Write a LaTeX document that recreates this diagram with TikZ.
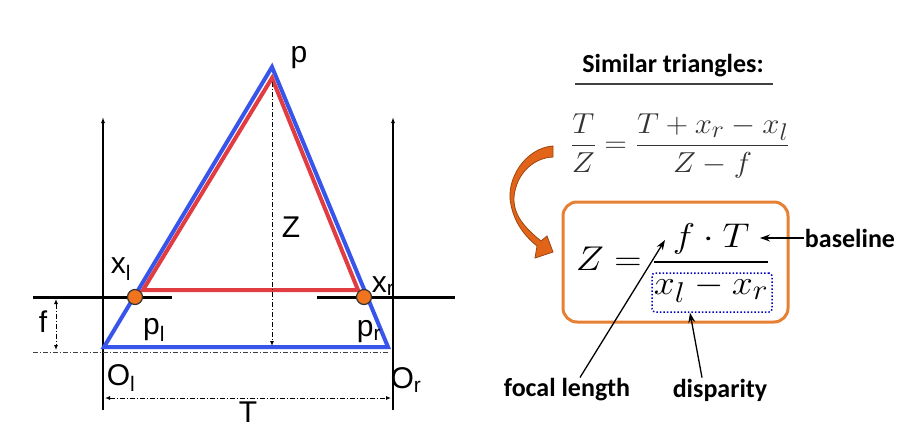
\documentclass[tikz,border=0pt]{standalone}
\usepackage{amsmath}
\usepackage{fontspec}
\setsansfont{Carlito}
\newfontfamily\labelfont{Liberation Sans}
\usetikzlibrary{arrows.meta}

\definecolor{camblue}{RGB}{55,85,235}
\definecolor{camred}{RGB}{225,60,65}
\definecolor{dotorange}{RGB}{240,115,30}
\definecolor{boxorange}{RGB}{230,128,50}
\definecolor{bendorange}{RGB}{225,100,25}

\begin{document}
\begin{tikzpicture}[x=1pt,y=-1pt,
    ray/.style={line width=4pt,line join=miter},
    axis/.style={line width=1.1pt,-{Latex[length=6pt,width=4pt]}},
    plane/.style={line width=3pt},
    dashdot/.style={line width=0.9pt,dash pattern=on 5pt off 2pt on 1pt off 2pt},
    dimtip/.style={{Latex[length=5pt,width=4pt]}-{Latex[length=5pt,width=4pt]}},
    dot/.style={circle,fill=dotorange,draw=black!80,line width=1.2pt,minimum size=15pt,inner sep=0pt},
    lab/.style={font=\labelfont\fontsize{30}{32}\selectfont,inner sep=0pt},
    note/.style={font=\sffamily\bfseries\fontsize{26}{28}\selectfont,inner sep=1pt},
    pointer/.style={line width=1.3pt,-{Stealth[length=10pt,width=7pt]}}]
  \useasboundingbox (0,0) rectangle (901,428);

  % left: two cameras looking at p
  \coordinate (P) at (272,67);
  \coordinate (Ol) at (104,347);
  \coordinate (Or) at (388,347);
  \coordinate (Pin) at (272,78);
  \coordinate (xl) at (143,290);
  \coordinate (xr) at (358,290);

  \draw[axis] (103,410) -- (103,117);
  \draw[axis] (393,410) -- (393,117);
  \draw[plane] (33,297) -- (172,297);
  \draw[plane] (317,297) -- (455,297);
  \draw[dashdot,black!75] (33,352) -- (390,352);

  \draw[ray,camblue] (P) -- (Ol) -- (Or) -- cycle;
  \draw[ray,camred] (Pin) -- (xl) -- (xr) -- cycle;
  \draw[dashdot,-{Latex[length=5pt,width=4pt]}] (272,82) -- (272,346);

  \node[dot] (pl) at (135,297) {};
  \node[dot] (pr) at (364,297) {};

  \draw[dashdot,dimtip] (56,299) -- (56,350);
  \draw[dashdot,dimtip] (105,398) -- (391,398);

  \node[lab] (lp) at (299,58) {p};
  \node[lab] (lz) at (291,227) {Z};
  \node[lab] (lxl) at (121,269) {x\textsubscript{l}};
  \node[lab] (lxr) at (383,286) {x\textsubscript{r}};
  \node[lab] (lf) at (43,322) {f};
  \node[lab] (lpl) at (154,330) {p\textsubscript{l}};
  \node[lab] (lpr) at (369,332) {p\textsubscript{r}};
  \node[lab] (lol) at (121,378) {O\textsubscript{l}};
  \node[lab] (lor) at (406,380) {O\textsubscript{r}};
  \node[lab,anchor=north] (lt) at (248,402) {T};

  % right: the formulas
  \node[note] (title) at (673,66) {Similar triangles:};
  \draw[line width=1.5pt,black!75] (575,84) -- (773,84);
  \node[font=\Huge,text=black!80] (eqsim) at (680,146)
    {\scalebox{1.24}[1.16]{$\dfrac{T}{Z}=\dfrac{T+x_r-x_l}{Z-f}$}};

  \fill[bendorange,draw=bendorange!70!black,line width=0.8pt]
    (553,146) .. controls (525,148) and (505,180) .. (511,205)
    .. controls (515,225) and (527,238) .. (537,246)
    -- (535,258) -- (553,252) -- (547,236) -- (541,241)
    .. controls (525,228) and (513,215) .. (514,197)
    .. controls (516,175) and (532,158) .. (553,157) -- cycle;

  \node[draw=boxorange,line width=3pt,rounded corners=14pt,
    minimum width=225pt,minimum height=120pt] (box) at (675.5,262) {};
  \node[font=\Huge] (eqz) at (673,263)
    {\scalebox{1.52}[1.38]{$Z=\dfrac{f\cdot T}{x_l-x_r}$}};
  \node[draw=blue!75!black,dotted,line width=1.5pt,rounded corners=3pt,
    minimum width=120pt,minimum height=39pt] (disp) at (712,292.5) {};

  \node[note] (base) at (850,238) {baseline};
  \coordinate (baseend) at (760,238);
  \draw[pointer] (base.west) -- (baseend);
  \node[note] (focal) at (567,390) {focal length};
  \coordinate (fltip) at (665,240);
  \draw[pointer] ([xshift=13pt]focal.north) -- (fltip);
  \node[note] (disparity) at (720,390) {disparity};
  \draw[pointer] ([xshift=-18pt]disparity.north) -- ([xshift=-22pt]disp.south);
\end{tikzpicture}
\end{document}
